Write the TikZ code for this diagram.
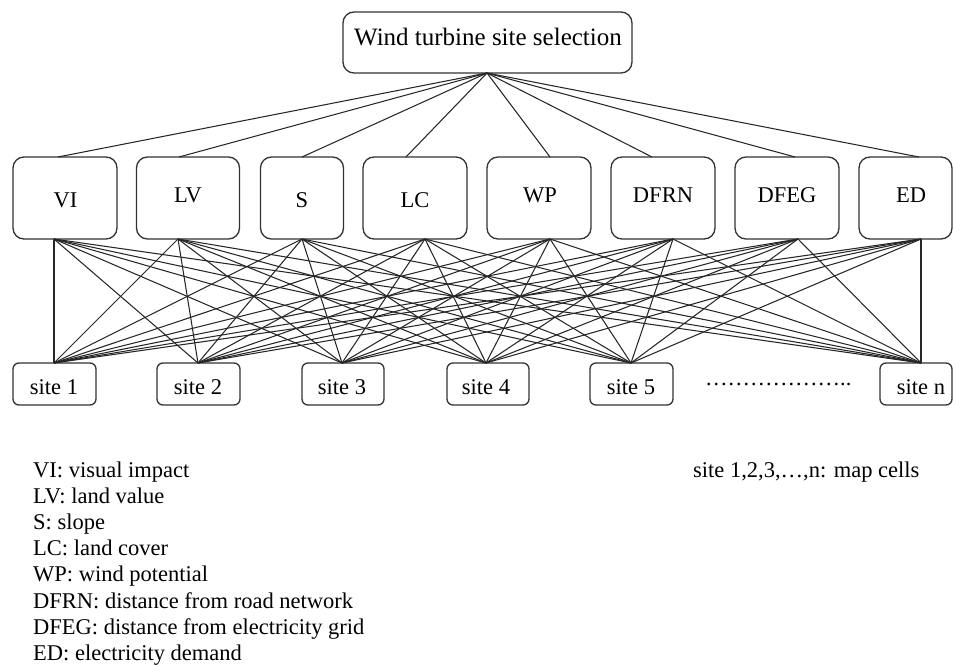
\documentclass[tikz,border=0pt]{standalone}
\usepackage{fontspec}
\setmainfont{Liberation Serif}
\begin{document}
\begin{tikzpicture}[x=1pt,y=-1pt,
  box/.style={draw=black!80, line width=1.3pt, rounded corners=11pt, inner sep=0pt, fill=white},
  sitebox/.style={draw=black!80, line width=1.3pt, rounded corners=6pt, inner sep=0pt, minimum height=42pt, fill=white},
  lbl/.style={anchor=base, inner sep=0pt, font=\fontsize{22.5}{26}\selectfont},
  leg/.style={anchor=base west, inner sep=0pt, font=\fontsize{22.5}{26}\selectfont},
  link/.style={draw=black!85, line width=1.05pt}]
\useasboundingbox (0,0) rectangle (953,666);

% goal
\node[box, minimum width=289pt, minimum height=61pt] (goal) at (487.5,42.5) {};
\node[lbl, font=\fontsize{25}{30}\selectfont] (goalt) at (488,46) {Wind turbine site selection};
\coordinate (goal-out) at (487,73);

% criteria
\foreach \n/\cx/\w/\tx/\bl/\ix/\ox in {VI/65/104/65.5/207/58/54, LV/188/103/188/202/179/178, S/302/83/302/207/302/302, LC/415/104/415/207/406/425, WP/539/104/540/202/550/550, DFRN/663/104/663/202/652/673, DFEG/787/104/787/202/795/798, ED/905.5/93/911/202/919/921}{
  \node[box, minimum width=\w pt, minimum height=82pt] (\n) at (\cx,198) {};
  \node[lbl] (\n-t) at (\tx,\bl) {\n};
  \coordinate (\n-in) at (\ix,157);
  \coordinate (\n-out) at (\ox,239);
}

% sites
\foreach \s/\sx/\w/\tx/\t in {s1/54.5/83/54/site 1, s2/198.5/83/198/site 2, s3/343/82/342/site 3, s4/488/82/486/site 4, s5/631.5/83/631/site 5, sn/916/72/921/site n}{
  \node[sitebox, minimum width=\w pt] (\s) at (\sx,384) {};
  \node[lbl] (\s-t) at (\tx,394) {\t};
  \coordinate (\s-in) at (\tx,363);
}
\node[leg] (dots) at (705,385) {………………..};

% links goal -> criteria
\foreach \n in {VI,LV,S,LC,WP,DFRN,DFEG,ED}{
  \draw[link] (goal-out) -- (\n-in);
}
% links criteria -> sites
\foreach \n in {VI,LV,S,LC,WP,DFRN,DFEG,ED}{
  \foreach \s in {s1,s2,s3,s4,s5,sn}{
    \draw[link] (\n-out) -- (\s-in);
  }
}

% legend
\node[leg] (l1) at (33,477) {VI: visual impact};
\node[leg] (l2) at (33,503.2) {LV: land value};
\node[leg] (l3) at (33,529.4) {S: slope};
\node[leg] (l4) at (33,555.6) {LC: land cover};
\node[leg] (l5) at (33,581.8) {WP: wind potential};
\node[leg] (l6) at (33,608) {DFRN: distance from road network};
\node[leg] (l7) at (33,634.2) {DFEG: distance from electricity grid};
\node[leg] (l8) at (33,660.4) {ED: electricity demand};
\node[leg] (note) at (693,477) {site 1,2,3,…,n: map cells};
\end{tikzpicture}
\end{document}
